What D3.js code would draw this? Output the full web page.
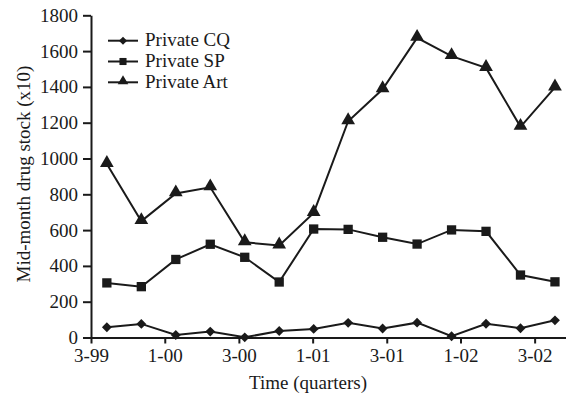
<!DOCTYPE html>
<html>
<head>
<meta charset="utf-8">
<script src="https://cdn.jsdelivr.net/npm/d3@7"></script>
<style>
	body { margin: 0; background: #fff; }
	text { font-family: "Liberation Serif", "Times New Roman", serif; fill: #1a1a1a; }
</style>
</head>
<body>
<svg id="chart" width="566" height="396"></svg>
<script>

var seriesNames = ["Private CQ", "Private SP", "Private Art"];

// one value per quarter, 14 quarters
var privateCQ = [57, 76, 14, 33, 1, 36, 48, 82, 50, 83, 7, 77, 52, 96];
var privateSP = [305, 284, 436, 521, 448, 310, 606, 604, 560, 522, 601, 593, 349, 311];
var privateArt = [969, 650, 805, 839, 532, 514, 696, 1208, 1387, 1674, 1572, 1506, 1177, 1397];

var xTickLabels = ["3-99", "1-00", "3-00", "1-01", "3-01", "1-02", "3-02"];
// where the tick labels fall, in quarter-index units
var xTickPos = [-0.46, 1.68, 3.83, 5.97, 8.12, 10.26, 12.41];
var yTicks = [0, 200, 400, 600, 800, 1000, 1200, 1400, 1600, 1800];

var ink = "#1a1a1a";
var svg = d3.select("#chart");

var x = d3.scaleLinear().domain([-0.46, 13.32]).range([91, 566]);
var y = d3.scaleLinear().domain([0, 1800]).range([337.5, 15.3]);

var styleAxis = function(g) {
	g.select(".domain").attr("stroke", ink).attr("stroke-width", 2);
	g.selectAll(".tick line").attr("stroke", ink).attr("stroke-width", 2);
	g.selectAll(".tick text").attr("font-size", 19).attr("fill", ink)
		.style("font-family", "'Liberation Serif', serif");
};

svg.append("g")
	.attr("transform", "translate(0," + y(0) + ")")
	.call(d3.axisBottom(x).tickValues(xTickPos)
		.tickFormat(function(d, i) { return xTickLabels[i]; })
		.tickSize(6).tickSizeOuter(0).tickPadding(5))
	.call(styleAxis);

svg.append("g")
	.attr("transform", "translate(" + x(-0.46) + ",0)")
	.call(d3.axisLeft(y).tickValues(yTicks).tickFormat(d3.format("d"))
		.tickSize(8).tickSizeOuter(0).tickPadding(5))
	.call(styleAxis);

svg.append("text")
	.attr("x", 308).attr("y", 389)
	.attr("text-anchor", "middle").attr("font-size", 19)
	.text("Time (quarters)");

svg.append("text")
	.attr("transform", "translate(30,174) rotate(-90)")
	.attr("text-anchor", "middle").attr("font-size", 19)
	.text("Mid-month drug stock (x10)");

var symbols = [d3.symbolSquare2, d3.symbolSquare2, d3.symbolTriangle2];
var symbolSizes = [62, 110, 135];
var legendSizes = [42, 64, 80];
var allSeries = [privateCQ, privateSP, privateArt];

var line = d3.line()
	.x(function(d, i) { return x(i); })
	.y(function(d) { return y(d); });

var drawSeries = function(values, k) {
	svg.append("path")
		.datum(values)
		.attr("d", line)
		.attr("fill", "none")
		.attr("stroke", ink)
		.attr("stroke-width", 2);

	// diamonds are squares turned by 45 degrees
	svg.selectAll(".m" + k)
		.data(values)
		.enter().append("path")
		.attr("class", "m" + k)
		.attr("d", d3.symbol().type(symbols[k]).size(symbolSizes[k]))
		.attr("transform", function(d, i) {
			var t = "translate(" + x(i) + "," + y(d) + ")";
			if (k === 0) t += " rotate(45)";
			if (k === 2) t += " translate(0,-1)";
			return t;
		})
		.attr("fill", ink);
};

allSeries.forEach(drawSeries);

// legend
var legend = svg.append("g");
seriesNames.forEach(function(name, k) {
	var cy = 40.7 + k * 20.8;
	legend.append("line")
		.attr("x1", 108).attr("x2", 138)
		.attr("y1", cy).attr("y2", cy)
		.attr("stroke", ink).attr("stroke-width", 2);
	legend.append("path")
		.attr("d", d3.symbol().type(symbols[k]).size(legendSizes[k]))
		.attr("transform", "translate(123," + cy + ")" + (k === 0 ? " rotate(45)" : "") + (k === 2 ? " translate(0,-1)" : ""))
		.attr("fill", ink);
	legend.append("text")
		.attr("x", 145).attr("y", cy + 5.5)
		.attr("font-size", 19)
		.text(name);
});

</script>
</body>
</html>
